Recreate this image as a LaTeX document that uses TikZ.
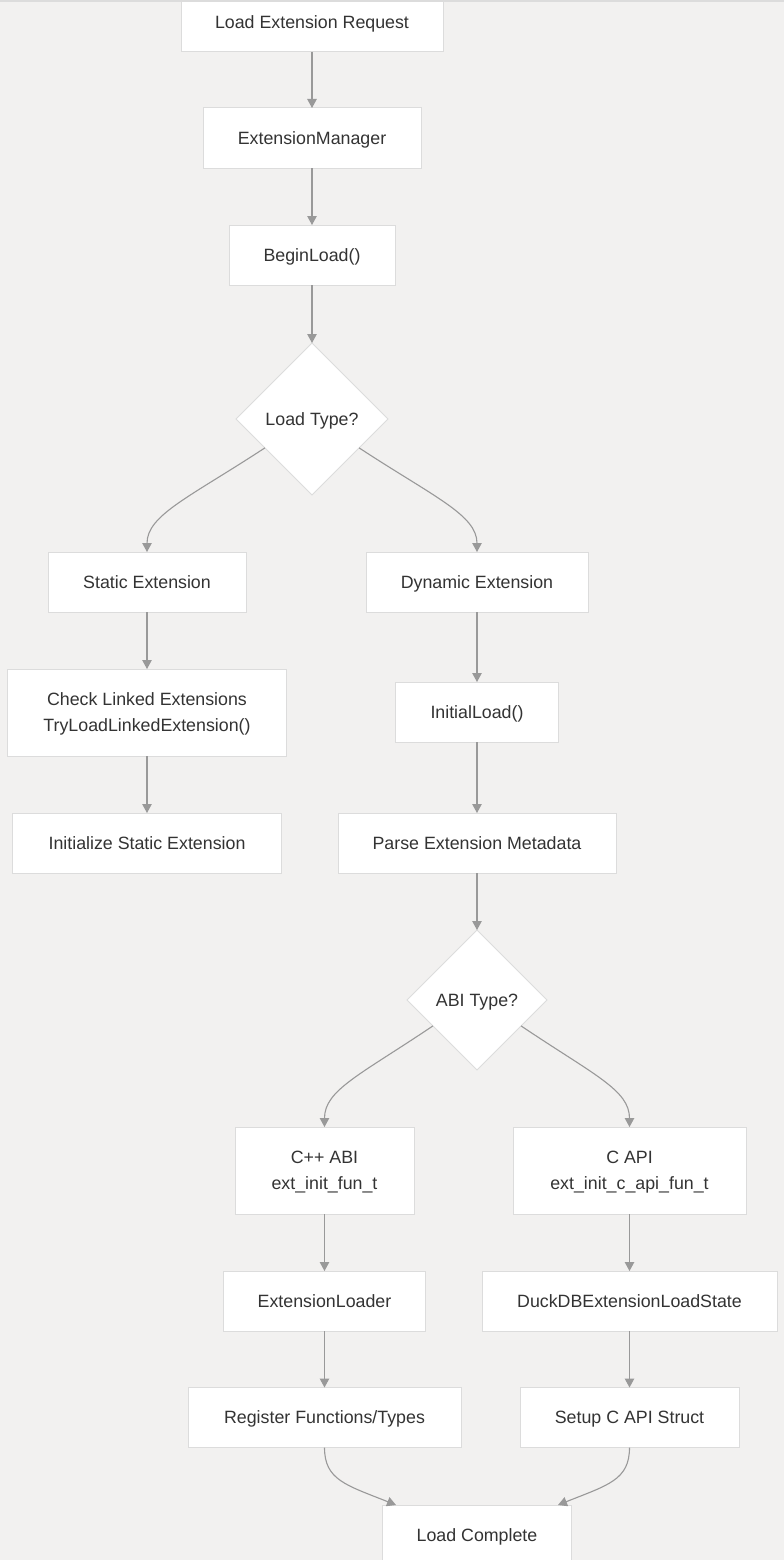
\documentclass[tikz,border=0pt]{standalone}
\usepackage{fontspec}
\setmainfont{Liberation Sans}
\usetikzlibrary{shapes.geometric,arrows.meta,calc}
\definecolor{bg}{HTML}{F2F1F0}
\definecolor{bd}{HTML}{DCDCDC}
\definecolor{ln}{HTML}{999999}
\definecolor{tx}{HTML}{333333}
\begin{document}
\begin{tikzpicture}[x=1pt,y=-1pt,
  box/.style={draw=bd,fill=white,line width=1pt,inner sep=0pt,outer sep=0pt,text=tx,
    font=\fontsize{17.8}{26}\selectfont,align=center,text depth=0pt},
  dec/.style={diamond,aspect=1,draw=bd,fill=white,line width=1pt,inner sep=0pt,outer sep=0pt,text=tx,
    font=\fontsize{17.8}{26}\selectfont,text depth=0pt},
  conn/.style={draw=ln,line width=1.1pt,-{Triangle[width=9.5pt,length=9pt]}}]
\useasboundingbox (0,0) rectangle (784,1560);
\fill[bg] (0,0) rectangle (784,1560);

\node[box,minimum width=262pt,minimum height=60pt] (req) at (312,22) {Load Extension Request};
\node[box,minimum width=218pt,minimum height=60pt] (mgr) at (312,138) {ExtensionManager};
\node[box,minimum width=166pt,minimum height=60pt] (begin) at (312,255) {BeginLoad()};
\node[dec,minimum width=152pt,minimum height=152pt] (lt) at (312,419) {Load Type?};
\node[box,minimum width=198pt,minimum height=60pt] (stat) at (147,582) {Static Extension};
\node[box,minimum width=222pt,minimum height=60pt] (dyn) at (477,582) {Dynamic Extension};
\node[box,minimum width=279pt,minimum height=87pt] (check) at (147,712.5) {Check Linked Extensions\\TryLoadLinkedExtension()};
\node[box,minimum width=269pt,minimum height=60pt] (init) at (147,843) {Initialize Static Extension};
\node[box,minimum width=163pt,minimum height=60pt] (iload) at (477,712) {InitialLoad()};
\node[box,minimum width=278pt,minimum height=60pt] (parse) at (477,843) {Parse Extension Metadata};
\node[dec,minimum width=140pt,minimum height=140pt] (abi) at (477,1000) {ABI Type?};
\node[box,minimum width=179pt,minimum height=87pt] (cpp) at (324.5,1170.5) {C++ ABI\\ext\_init\_fun\_t};
\node[box,minimum width=233pt,minimum height=87pt] (capi) at (629.5,1170.5) {C API\\ext\_init\_c\_api\_fun\_t};
\node[box,minimum width=202pt,minimum height=60pt] (eloader) at (324.5,1301) {ExtensionLoader};
\node[box,minimum width=295pt,minimum height=60pt] (duck) at (629.5,1301) {DuckDBExtensionLoadState};
\node[box,minimum width=273pt,minimum height=60pt] (reg) at (324.5,1417.5) {Register Functions/Types};
\node[box,minimum width=219pt,minimum height=60pt] (setup) at (629.5,1417.5) {Setup C API Struct};
\node[box,minimum width=189pt,minimum height=60pt] (done) at (477,1535) {Load Complete};

\draw[conn] (req) -- (mgr);
\draw[conn] (mgr) -- (begin);
\draw[conn] (begin) -- (lt);
\draw[conn] ($(lt.west)!0.38!(lt.south)$) .. controls (190,497) and (147,515) .. (stat.north);
\draw[conn] ($(lt.east)!0.38!(lt.south)$) .. controls (434,497) and (477,515) .. (dyn.north);
\draw[conn] (stat) -- (check);
\draw[conn] (check) -- (init);
\draw[conn] (dyn) -- (iload);
\draw[conn] (iload) -- (parse);
\draw[conn] (parse) -- (abi);
\draw[conn] ($(abi.west)!0.37!(abi.south)$) .. controls (360,1075) and (324.5,1090) .. (cpp.north);
\draw[conn] ($(abi.east)!0.37!(abi.south)$) .. controls (594,1075) and (629.5,1090) .. (capi.north);
\draw[conn] (cpp) -- (eloader);
\draw[conn] (eloader) -- (reg);
\draw[conn] (capi) -- (duck);
\draw[conn] (duck) -- (setup);
\coordinate (dl) at ($(done.north)+(-81,0)$);
\coordinate (dr) at ($(done.north)+(81,0)$);
\draw[conn] (reg.south) .. controls (324.5,1480) and (346,1485) .. (dl);
\draw[conn] (setup.south) .. controls (629.5,1480) and (608,1485) .. (dr);

\fill[bd] (0,0) rectangle (784,2.5);
\end{tikzpicture}
\end{document}
